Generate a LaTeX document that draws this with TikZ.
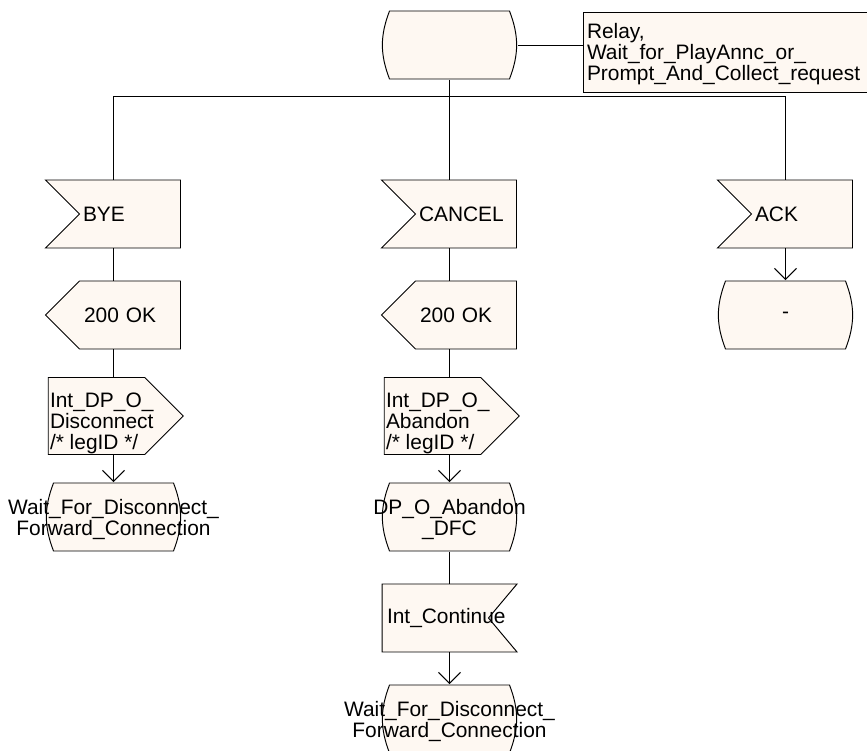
\documentclass[tikz,border=0pt]{standalone}
\usepackage{fontspec}
\setmainfont{Liberation Sans}
\usetikzlibrary{arrows.meta, shapes.symbols}
\definecolor{sdlfill}{RGB}{254,248,242}
\newcommand{\sdlfont}{\fontsize{11.9pt}{12pt}\selectfont}

\begin{document}
\begin{tikzpicture}[
    node distance=2.02cm, >={Straight Barb[length=2.2mm, width=4.4mm]},
    line width=0.55pt,
    every node/.style={draw, fill=sdlfill, font=\sdlfont, inner sep=0pt},
    sdlstate/.style={rectangle, draw=none, fill=none, minimum width=2.74cm, minimum height=1.38cm, align=center,
        path picture={
            \draw[fill=sdlfill] ([shift={(0.17cm,-0.01cm)}]path picture bounding box.north west)
                -- ([shift={(-0.17cm,-0.01cm)}]path picture bounding box.north east)
                to[bend left=21] ([shift={(-0.17cm,0.01cm)}]path picture bounding box.south east)
                -- ([shift={(0.17cm,0.01cm)}]path picture bounding box.south west)
                to[bend left=21] ([shift={(0.17cm,-0.01cm)}]path picture bounding box.north west) -- cycle;
        }},
    twolines/.style={text height=0.82cm, text depth=0.09cm},
    sdlinput/.style={signal, signal from=west, signal to=nowhere, minimum width=2.7cm, minimum height=1.36cm, text width=1.88cm, align=left},
    sdloutleft/.style={signal, signal to=west, minimum width=2.7cm, minimum height=1.36cm, text width=1.84cm, align=left},
    sdloutright/.style={signal, signal to=east, minimum width=2.7cm, minimum height=1.36cm, text height=1.45cm, text depth=0.09cm, align=left},
    sdlinternal/.style={signal, signal from=east, signal to=nowhere, signal pointer angle=100, minimum width=2.7cm, minimum height=1.36cm, text width=1.93cm, align=left}
]
\useasboundingbox (0,0) rectangle (17.34,-15.02);

\node (start) [sdlstate] at (8.99,-0.90) {};
\node (comment) [rectangle, right of=start, xshift=3.75cm, yshift=-0.14cm, minimum width=6.2cm, minimum height=1.6cm, text height=1.25cm, text depth=0.09cm, align=left] {\makebox[6.04cm][l]{Relay,}\\Wait\_for\_PlayAnnc\_or\_\\Prompt\_And\_Collect\_request};

\node (cancel) [sdlinput, below of=start, xshift=0.33cm, yshift=-1.36cm] {CANCEL};
\node (bye) [sdlinput, left of=cancel, xshift=-4.7cm] {BYE};
\node (ack) [sdlinput, right of=cancel, xshift=4.7cm] {ACK};

% BYE branch
\node (okbye) [sdloutleft, below of=bye] {200 OK};
\node (dpdisc) [sdloutright, below of=okbye, xshift=-0.67cm] {\makebox[1.86cm][l]{Int\_DP\_O\_}\\\makebox[1.86cm][l]{Disconnect}\\/* legID */};
\node (waitdisc) [sdlstate, twolines, below of=dpdisc, xshift=0.34cm] {\makebox[0pt]{Wait\_For\_Disconnect\_}\\\makebox[0pt]{Forward\_Connection}};

% CANCEL branch
\node (okcancel) [sdloutleft, below of=cancel] {200 OK};
\node (dpaband) [sdloutright, below of=okcancel, xshift=-0.67cm] {\makebox[1.86cm][l]{Int\_DP\_O\_}\\Abandon\\/* legID */};
\node (aband) [sdlstate, twolines, below of=dpaband, xshift=0.34cm] {\makebox[0pt]{DP\_O\_Abandon}\\\makebox[0pt]{\_DFC}};
\node (intcont) [sdlinternal, below of=aband, xshift=-0.285cm] {Int\_Continue};
\node (waitfwd) [sdlstate, twolines, below of=intcont, xshift=0.285cm] {\makebox[0pt]{Wait\_For\_Disconnect\_}\\\makebox[0pt]{Forward\_Connection}};

% ACK branch
\node (samestate) [sdlstate, below of=ack, xshift=-0.33cm] {-};

\draw (start.east) -- (start.east -| comment.west);
\draw (start.south) -- (start.south |- cancel.north);
\draw (waitdisc.north |- bye.north) |- ([yshift=-0.34cm]start.south) -| (samestate.north |- ack.north);
\draw (waitdisc.north |- bye.south) -- (waitdisc.north |- okbye.north);
\draw (waitdisc.north |- okbye.south) -- (waitdisc.north |- dpdisc.north);
\draw[->] (waitdisc.north |- dpdisc.south) -- (waitdisc.north);
\draw (aband.north |- cancel.south) -- (aband.north |- okcancel.north);
\draw (aband.north |- okcancel.south) -- (aband.north |- dpaband.north);
\draw[->] (aband.north |- dpaband.south) -- (aband.north);
\draw (aband.south) -- (aband.south |- intcont.north);
\draw[->] (aband.south |- intcont.south) -- (waitfwd.north);
\draw[->] (samestate.north |- ack.south) -- (samestate.north);
\end{tikzpicture}
\end{document}
